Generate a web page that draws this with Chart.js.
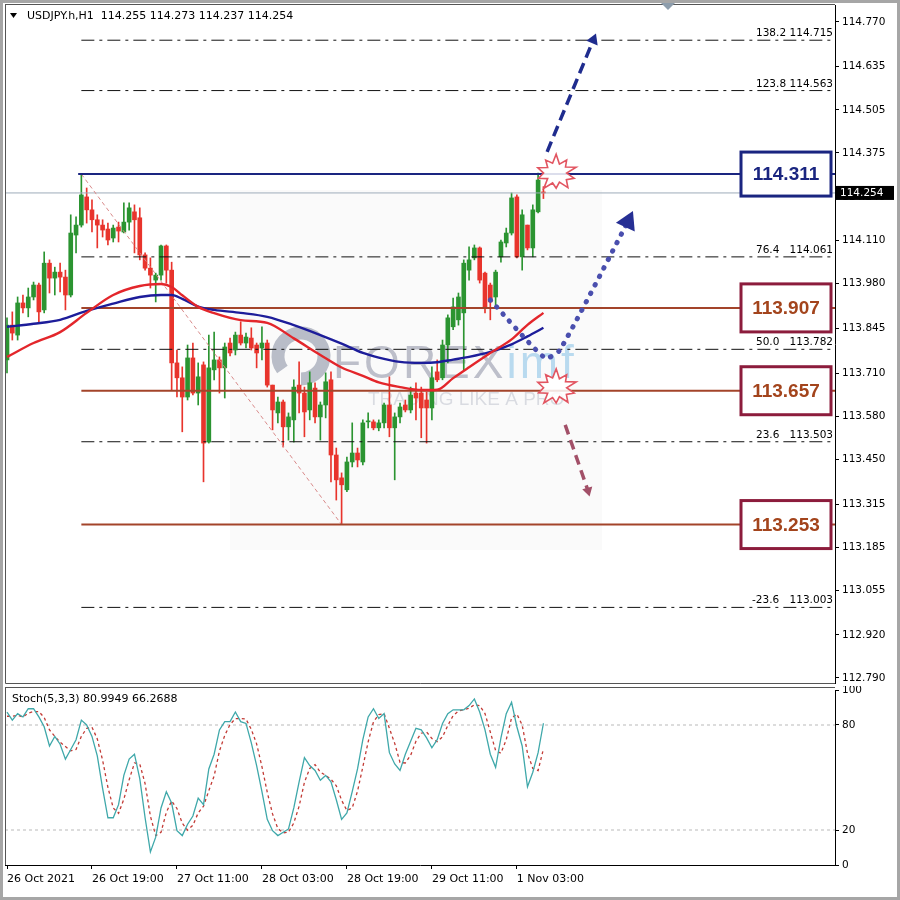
<!DOCTYPE html>
<html><head><meta charset="utf-8">
<script src="https://cdn.jsdelivr.net/npm/chart.js@4.4.1/dist/chart.umd.min.js"></script>
<style>
html,body{margin:0;padding:0;background:#fff;}
#wrap{position:relative;width:900px;height:900px;overflow:hidden;background:#fff;}
canvas{position:absolute;left:0;}
#border{position:absolute;left:0;top:0;width:900px;height:900px;box-sizing:border-box;border:3px solid #a6a6a6;pointer-events:none;}
</style></head><body>
<div id="wrap">
<canvas id="main" width="900" height="686" style="top:0"></canvas>
<canvas id="stoch" width="900" height="214" style="top:686px"></canvas>
<div id="border"></div>
</div>
<script>
// ---------- DATA ----------
const symbolTitle = 'USDJPY.h,H1  114.255 114.273 114.237 114.254';
const stochTitle = 'Stoch(5,3,3) 80.9949 66.2688';

const openP = [113.750,113.855,113.825,113.922,113.907,113.940,113.976,113.901,114.042,113.997,
114.015,114.000,113.946,114.127,114.157,114.242,114.203,114.173,114.157,114.145,
114.118,114.151,114.136,114.166,114.197,114.179,114.067,114.027,113.991,114.006,
114.094,114.021,113.741,113.696,113.638,113.756,113.650,113.735,113.502,113.720,
113.750,113.726,113.801,113.780,113.825,113.801,113.816,113.795,113.786,113.801,
113.674,113.590,113.623,113.548,113.569,113.674,113.650,113.599,113.665,113.578,
113.614,113.690,113.463,113.394,113.358,113.442,113.469,113.442,113.563,113.563,
113.545,113.560,113.614,113.545,113.578,113.614,113.599,113.650,113.650,113.629,
113.605,113.714,113.696,113.795,113.850,113.871,113.892,114.021,114.058,114.088,
114.012,113.976,113.940,114.061,114.103,114.133,114.242,114.061,114.157,114.088,
114.197,114.255];
const highP = [113.877,113.895,113.940,113.946,113.967,113.985,113.982,114.076,114.052,114.030,
114.042,114.021,114.188,114.182,114.311,114.269,114.233,114.188,114.173,114.163,
114.157,114.166,114.224,114.224,114.218,114.209,114.073,114.058,114.012,114.097,
114.097,114.045,113.780,113.729,113.795,113.801,113.741,113.744,113.825,113.834,
113.759,113.801,113.816,113.834,113.865,113.831,113.847,113.801,113.850,113.810,
113.674,113.638,113.629,113.590,113.690,113.744,113.668,113.714,113.681,113.623,
113.711,113.714,113.484,113.409,113.457,113.560,113.484,113.569,113.590,113.569,
113.569,113.620,113.699,113.590,113.620,113.629,113.668,113.681,113.668,113.653,
113.729,113.750,113.810,113.886,113.937,113.952,114.052,114.091,114.097,114.091,
114.015,113.982,114.021,114.112,114.148,114.254,114.248,114.203,114.157,114.218,
114.314,114.273];
const lowP = [113.711,113.810,113.810,113.892,113.880,113.931,113.865,113.892,113.952,113.946,
113.955,113.901,113.940,114.073,114.151,114.163,114.136,114.088,114.121,114.097,
114.106,114.106,114.133,114.142,114.073,114.052,114.021,113.967,113.925,113.991,
113.982,113.659,113.638,113.533,113.629,113.644,113.614,113.382,113.499,113.690,
113.650,113.635,113.762,113.765,113.795,113.786,113.780,113.726,113.750,113.668,
113.539,113.560,113.487,113.508,113.502,113.590,113.518,113.569,113.560,113.508,
113.575,113.382,113.327,113.253,113.352,113.427,113.427,113.433,113.545,113.539,
113.536,113.545,113.518,113.388,113.560,113.593,113.590,113.569,113.515,113.499,
113.569,113.684,113.690,113.741,113.841,113.855,113.720,113.991,114.052,113.982,
113.892,113.871,113.910,114.045,114.091,114.127,114.058,114.021,114.082,114.061,
114.194,114.237];
const closeP = [113.855,113.831,113.922,113.907,113.940,113.976,113.895,114.042,113.997,114.015,
114.000,113.946,114.133,114.157,114.248,114.203,114.173,114.157,114.142,114.112,
114.148,114.139,114.166,114.209,114.173,114.067,114.027,114.006,114.006,114.094,
114.021,113.741,113.696,113.638,113.756,113.650,113.699,113.499,113.726,113.750,
113.726,113.789,113.771,113.825,113.801,113.819,113.786,113.771,113.801,113.674,
113.599,113.623,113.548,113.578,113.668,113.650,113.593,113.681,113.578,113.614,
113.684,113.463,113.388,113.373,113.442,113.469,113.448,113.560,113.566,113.545,
113.560,113.614,113.545,113.578,113.608,113.599,113.644,113.635,113.605,113.605,
113.696,113.690,113.795,113.877,113.910,113.940,114.042,114.052,114.088,113.991,
113.910,113.925,114.015,114.106,114.133,114.239,114.061,114.188,114.088,114.203,
114.293,114.254];

const maIdx  = [0,5,10,15,20,25,29,31,33,36,39,44,49,54,59,63,67,70,74,78,81,84,87,91,95,98,101];
const maRed  = [113.759,113.801,113.834,113.892,113.946,113.973,113.979,113.970,113.945,113.910,113.891,113.870,113.862,113.815,113.765,113.727,113.702,113.682,113.668,113.659,113.660,113.695,113.728,113.771,113.812,113.856,113.892];
const maBlue = [113.850,113.859,113.871,113.898,113.920,113.940,113.946,113.946,113.934,113.911,113.901,113.892,113.880,113.855,113.825,113.799,113.771,113.757,113.744,113.741,113.743,113.751,113.759,113.774,113.797,113.821,113.847];

const stochK = [87.4,82.8,86.5,84.6,89.3,89.3,84.6,79,68,73.5,
69,60.5,66,71.6,82.8,80,73.5,62.4,43.8,27,
27,34.5,51.2,60.5,63.3,49.3,27,7.5,15.9,32.6,
41.9,35.4,19.6,16.8,23.3,28,38.2,34.5,54.9,63.3,
77.2,81.9,81.9,87.4,81.9,80.9,69.8,56.8,41.9,26.1,
19.6,16.8,18.7,20.6,32.6,47.5,61.4,56.8,54,48.4,
51.2,47.5,37.3,26.1,29.8,41.9,54.9,71.6,84.6,89.3,
83.7,86.5,64.2,57.7,54,63.3,70.7,78.1,77.2,72.6,
67,71.6,80.9,86.5,88.7,88.7,88.7,91.1,94.9,87.4,
77.2,63.3,55.8,72.6,86.5,93,79,68,44.7,53,
64.2,81];
const stochD = [85,85,85.6,84.6,86.8,87.7,87.7,84.3,77.2,73.5,
70.2,67.7,65.2,66,73.5,78.1,78.8,72,59.9,44.4,
32.6,29.5,37.6,48.7,58.3,57.7,46.5,27.9,16.8,18.7,
30.1,36.6,32.3,23.9,19.9,22.7,29.8,33.6,42.5,50.9,
65.1,74.1,80.3,83.7,83.7,83.4,77.5,69.2,56.2,41.6,
29.2,20.8,18.4,18.7,24,33.6,47.2,55.2,57.4,53.1,
51.2,49,45.3,37,31.1,32.6,42.2,56.1,70.4,81.8,
85.9,86.5,78.1,69.5,58.6,58.3,62.7,70.7,75.3,76,
72.3,70.4,73.2,79.7,85.4,88,88.7,89.5,91.6,91.1,
86.5,76,65.4,63.9,71.6,84,86.2,80,63.9,55.2,
54,66.3];

const priceTicks = [114.770,114.635,114.505,114.375,114.240,114.110,113.980,113.845,113.710,113.580,113.450,113.315,113.185,113.055,112.920,112.790];
const stochTicks = [0,20,80,100];
const stochLevels = [80,20];
const timeTickIdx = [0,16,32,48,64,80,96];
const timeTickLabels = ['26 Oct 2021','26 Oct 19:00','27 Oct 11:00','28 Oct 03:00','28 Oct 19:00','29 Oct 11:00','1 Nov 03:00'];

const currentPrice = 114.254;
const resistance = 114.311;
const supportLevels = [113.907,113.657,113.253];
const fibLow = 113.253, fibHigh = 114.311;
const fibPct = ['138.2','123.8','76.4','50.0','23.6','-23.6'];
const fibPrices = [114.715,114.563,114.061,113.782,113.503,113.003];
const levelStart = 14;           // bar index where the drawn levels begin
const fibDiagEnd = 63;           // bar index of the swing low

const arrowUp   = [[101.7,114.378],[110.4,114.716]];
const arrowV    = [[91,113.931],[101.3,113.756],[104.1,113.780],[116.9,114.167]];
const arrowDown = [[105.1,113.554],[109.4,113.355]];
const starIdx   = [103.4,103.4];
const starPrice = [114.314,113.666];

// ---------- CHART ----------
const xMin = -0.377, xMax = 155.9;
const GREEN = '#2b9431', RED = '#e8342c';
const NAVY = '#1a2580', BROWN = '#a3442a';
Chart.defaults.font.family = '"DejaVu Sans", sans-serif';
Chart.defaults.color = '#000';
Chart.defaults.animation = false;
Chart.defaults.elements.point.radius = 0;
Chart.defaults.plugins.legend.display = false;
Chart.defaults.plugins.tooltip.enabled = false;

const zeroPad = s => { s.paddingLeft = 0; s.paddingRight = 0; s.paddingTop = 0; s.paddingBottom = 0; };

const candleColor = closeP.map((c,i)=> c >= openP[i] ? GREEN : RED);
const wickData = lowP.map((l,i)=>({x:i, y:[l, highP[i]]}));
const bodyData = openP.map((o,i)=>({x:i, y:[o, closeP[i]]}));
const hline = (v, from) => [{x:from, y:v},{x:xMax, y:v}];
const pts = arr => arr.map(p=>({x:p[0], y:p[1]}));

const datasets = [];
datasets.push({type:'line', data:pts(arrowUp), borderColor:'#1f2c8e', borderWidth:3.5, borderDash:[11,6], order:0,
  pointRadius:[0,7], pointStyle:'triangle', pointRotation:[0,22], pointBackgroundColor:'#1f2c8e', pointBorderWidth:0});
datasets.push({type:'line', data:pts(arrowV), borderColor:'#4a4fae', borderWidth:5, borderDash:[0.5,9], borderCapStyle:'round', order:0, tension:0.2,
  pointRadius:[0,0,0,12], pointStyle:'triangle', pointRotation:[0,0,0,25], pointBackgroundColor:'#262f94', pointBorderWidth:0});
datasets.push({type:'line', data:pts(arrowDown), borderColor:'#a25068', borderWidth:3.5, borderDash:[10,6], order:0,
  pointRadius:[0,6], pointStyle:'triangle', pointRotation:[0,165], pointBackgroundColor:'#a25068', pointBorderWidth:0});
datasets.push({type:'line', data:maIdx.map((x,k)=>({x, y:maRed[k]})), borderColor:'#e3262b', borderWidth:2.4, cubicInterpolationMode:'monotone', order:1});
datasets.push({type:'line', data:maIdx.map((x,k)=>({x, y:maBlue[k]})), borderColor:'#1d1d9a', borderWidth:2.4, cubicInterpolationMode:'monotone', order:1});
datasets.push({type:'line', data:hline(resistance, levelStart-0.6), borderColor:NAVY, borderWidth:2, order:2});
supportLevels.forEach(v=>datasets.push({type:'line', data:hline(v, levelStart), borderColor:BROWN, borderWidth:2, order:2}));
fibPrices.forEach(v=>datasets.push({type:'line', data:hline(v, levelStart), borderColor:'#111', borderWidth:1, borderDash:[13,5,3,5], order:3}));
datasets.push({type:'line', data:[{x:levelStart,y:fibHigh},{x:fibDiagEnd,y:fibLow}], borderColor:'#d88a8a', borderWidth:1, borderDash:[4,3], order:4});
datasets.push({type:'line', data:hline(currentPrice, xMin), borderColor:'#9eabb9', borderWidth:1, order:5});
datasets.push({type:'bar', data:bodyData, backgroundColor:candleColor, barThickness:4, minBarLength:1, grouped:false, order:6});
datasets.push({type:'bar', data:wickData, backgroundColor:candleColor, barThickness:1, grouped:false, order:7});

function starburst(c, x, y, r){
  const rad = [1,.5,.85,.55,1,.5,.9,.6,.95,.5,.8,.55,1,.5,.88,.6,.92,.5,.85,.55];
  c.beginPath();
  for(let k=0;k<rad.length;k++){
    const a = -Math.PI/2 + k*2*Math.PI/rad.length;
    const rr = r*rad[k];
    const px = x + Math.cos(a)*rr, py = y + Math.sin(a)*rr*0.9;
    k ? c.lineTo(px,py) : c.moveTo(px,py);
  }
  c.closePath();
  c.fillStyle='rgba(255,255,255,0.85)'; c.fill();
  c.strokeStyle='#e25561'; c.lineWidth=1.6; c.stroke();
}

const mainDeco = {
  id:'mainDeco',
  beforeDatasetsDraw(chart){
    const c = chart.ctx; c.save();
    c.fillStyle='rgba(0,0,0,0.02)'; c.fillRect(230,190,372,360);
    c.strokeStyle='rgba(105,112,138,0.45)'; c.lineWidth=13;
    c.beginPath(); c.arc(301,356,23,0.8*Math.PI,2.5*Math.PI); c.stroke();
    c.font='46px "Liberation Sans"'; c.textBaseline='alphabetic';
    c.letterSpacing='3px';
    c.fillStyle='rgba(112,118,142,0.45)'; c.fillText('FOREX',333,378);
    const w = c.measureText('FOREX').width;
    c.fillStyle='rgba(120,185,228,0.5)'; c.fillText('imf',333+w,378);
    c.letterSpacing='0px';
    c.font='19px "Liberation Sans"'; c.fillStyle='rgba(140,145,165,0.3)';
    c.fillText('TRADING LIKE A PRO',368,405);
    c.restore();
  },
  afterDatasetsDraw(chart){
    const c = chart.ctx, xs = chart.scales.x, ys = chart.scales.y;
    c.save();
    starIdx.forEach((ix,k)=>starburst(c, xs.getPixelForValue(ix), ys.getPixelForValue(starPrice[k]), 21));
    c.font='10.5px "DejaVu Sans"'; c.fillStyle='#000'; c.textBaseline='alphabetic';
    fibPrices.forEach((v,k)=>{
      const y = ys.getPixelForValue(v) - 4;
      c.textAlign='left'; c.fillText(fibPct[k], fibPct[k].startsWith('-')?752:756, y);
      c.textAlign='right'; c.fillText(v.toFixed(3), 833, y);
    });
    const boxes = [{v:resistance, b:NAVY, t:NAVY, h:44}].concat(supportLevels.map(v=>({v, b:'#8c1c3c', t:'#a3441c', h:48})));
    boxes.forEach(bx=>{
      const y = ys.getPixelForValue(bx.v);
      c.fillStyle='#fff'; c.fillRect(741, y-bx.h/2, 90, bx.h);
      c.strokeStyle=bx.b; c.lineWidth=3; c.strokeRect(741, y-bx.h/2, 90, bx.h);
      c.fillStyle=bx.t; c.font='bold 19px "Liberation Sans"'; c.textAlign='center'; c.textBaseline='middle';
      c.fillText(bx.v.toFixed(3), 786, y+1);
    });
    c.restore();
  },
  afterDraw(chart){
    const c = chart.ctx, ys = chart.scales.y, a = chart.chartArea;
    c.save();
    c.strokeStyle='#555'; c.lineWidth=1;
    c.beginPath(); c.moveTo(a.left+0.5, a.top-0.5); c.lineTo(a.left+0.5, a.bottom+0.5); c.lineTo(a.right, a.bottom+0.5); c.stroke();
    c.beginPath(); c.moveTo(a.left, a.top-0.5); c.lineTo(a.right, a.top-0.5); c.stroke();
    const y = ys.getPixelForValue(currentPrice);
    c.fillStyle='#000'; c.fillRect(836, y-7, 58, 14);
    c.fillStyle='#fff'; c.font='10.5px "DejaVu Sans"'; c.textAlign='left'; c.textBaseline='middle';
    c.fillText(currentPrice.toFixed(3), 840, y+0.5);
    c.fillStyle='#000';
    c.beginPath(); c.moveTo(10,13); c.lineTo(17,13); c.lineTo(13.5,18); c.closePath(); c.fill();
    c.font='11px "DejaVu Sans"'; c.fillText(symbolTitle, 27, 16);
    c.fillStyle='#8d9dac';
    c.beginPath(); c.moveTo(661,3); c.lineTo(675,3); c.lineTo(668,10); c.closePath(); c.fill();
    c.restore();
  }
};

new Chart(document.getElementById('main'), {
  type:'line',
  data:{datasets},
  options:{
    responsive:false, events:[],
    layout:{autoPadding:false, padding:{left:5, top:5, right:0, bottom:3}},
    scales:{
      x:{type:'linear', min:xMin, max:xMax, display:true, position:'bottom',
         afterBuildTicks:s=>{ s.ticks = []; },
         afterFit:s=>{ s.height = 0; zeroPad(s); },
         ticks:{display:false}, grid:{display:false}, border:{display:false}},
      y:{type:'linear', position:'right', min:112.7748, max:114.8213,
         afterBuildTicks:s=>{ s.ticks = priceTicks.map(v=>({value:v})); },
         afterFit:s=>{ s.width = 65; zeroPad(s); },
         ticks:{font:{size:10.5}, color:'#000', padding:3, autoSkip:false, callback:v=>Number(v).toFixed(3)},
         grid:{drawOnChartArea:false, drawTicks:true, tickLength:4, color:'#000'},
         border:{display:true, color:'#000'}}
    }
  },
  plugins:[mainDeco]
});

// ---------- STOCH ----------
const stochDeco = {
  id:'stochDeco',
  afterDraw(chart){
    const c = chart.ctx, a = chart.chartArea;
    c.save();
    c.strokeStyle='#555'; c.lineWidth=1;
    c.beginPath(); c.moveTo(a.left+0.5, 1.5); c.lineTo(a.left+0.5, a.bottom); c.stroke();
    c.beginPath(); c.moveTo(a.left, 1.5); c.lineTo(a.right, 1.5); c.stroke();
    c.fillStyle='#000'; c.font='11px "DejaVu Sans"'; c.textBaseline='middle';
    c.fillText(stochTitle, 12, 13);
    c.restore();
  }
};
const stochSets = [
  {type:'line', data:stochK.map((v,i)=>({x:i,y:v})), borderColor:'#3fa8aa', borderWidth:1.3, order:0},
  {type:'line', data:stochD.map((v,i)=>({x:i,y:v})), borderColor:'#c23a35', borderWidth:1.3, borderDash:[3,3], order:1}
];
stochLevels.forEach(v=>stochSets.push({type:'line', data:[{x:xMin,y:v},{x:xMax,y:v}], borderColor:'#b9b9b9', borderWidth:1, borderDash:[3,3], order:2}));

new Chart(document.getElementById('stoch'), {
  type:'line',
  data:{datasets:stochSets},
  options:{
    responsive:false, events:[],
    layout:{autoPadding:false, padding:{left:5, top:4, right:0, bottom:0}},
    scales:{
      x:{type:'linear', min:xMin, max:xMax, position:'bottom',
         afterBuildTicks:s=>{ s.ticks = timeTickIdx.map(v=>({value:v})); },
         afterFit:s=>{ s.height = 35; zeroPad(s); },
         ticks:{font:{size:11}, color:'#000', align:'start', padding:4, maxRotation:0, autoSkip:false,
                callback:(v,idx)=>timeTickLabels[idx]},
         grid:{drawOnChartArea:false, drawTicks:true, tickLength:4, color:'#000'},
         border:{display:true, color:'#000'}},
      y:{type:'linear', position:'right', min:0, max:100,
         afterBuildTicks:s=>{ s.ticks = stochTicks.map(v=>({value:v})); },
         afterFit:s=>{ s.width = 65; zeroPad(s); },
         ticks:{font:{size:10.5}, color:'#000', padding:3, autoSkip:false},
         grid:{drawOnChartArea:false, drawTicks:true, tickLength:4, color:'#000'},
         border:{display:true, color:'#000'}}
    }
  },
  plugins:[stochDeco]
});
</script>
</body></html>
